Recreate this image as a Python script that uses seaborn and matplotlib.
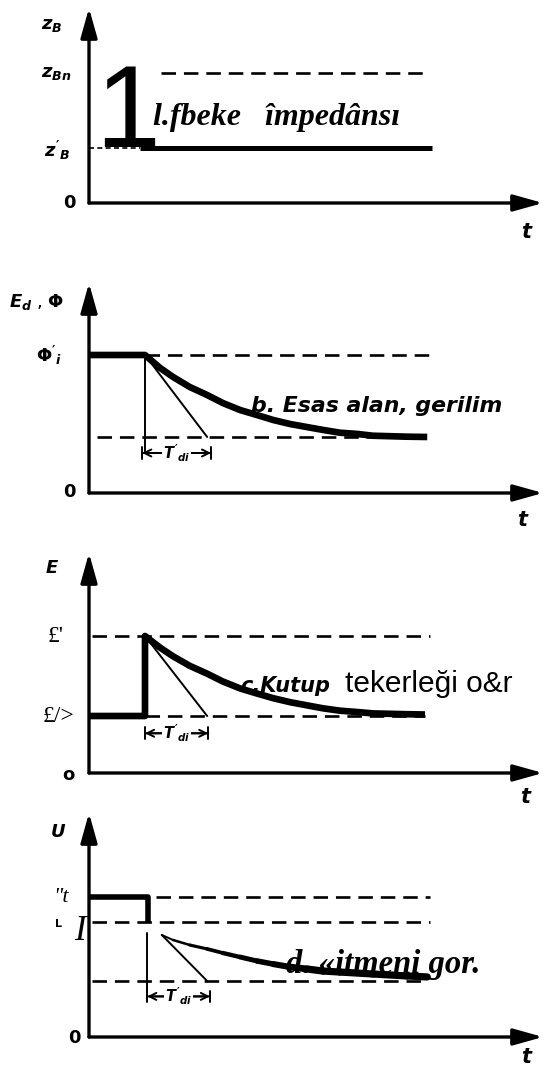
import matplotlib
matplotlib.use("Agg")
import matplotlib.pyplot as plt
from matplotlib.collections import LineCollection
import numpy as np
import seaborn as sns

# ---------------------------------------------------------------------------
# Data: time in units of the switching instant (t = 1); each quantity is
# expressed relative to its upper reference level (upper dashed line = 1).
# ---------------------------------------------------------------------------

# a) network impedance
a_zbn_level = 1.0
a_zbn_span = [1.29, 6.07]
a_zb1_level = 0.42
a_zb1_pre_span = [0.0, 0.91]
a_zb1_span = [0.91, 6.13]

# b) main-field voltage / flux
b_t = [0.0, 1.0, 1.27, 1.50, 1.80, 2.11, 2.39, 2.70, 3.00, 3.29, 3.59,
       3.89, 4.18, 4.48, 4.79, 5.07, 5.68, 6.04]
b_level = [1.0, 1.0, 0.906, 0.841, 0.768, 0.710, 0.652, 0.601, 0.565, 0.529,
           0.500, 0.478, 0.457, 0.437, 0.428, 0.415, 0.408, 0.406]
b_upper_level = 1.0
b_upper_span = [1.0, 6.09]
b_lower_level = 0.406
b_lower_span = [0.14, 6.09]
b_tangent_t = [1.0, 2.11]
b_tangent = [1.0, 0.406]
b_marker_t = 1.0
b_marker = [1.0, 0.29]
b_td_span = [0.95, 2.18]
b_td_level = 0.29

# c) pole-wheel voltage
c_t = [0.0, 1.0, 1.0, 1.27, 1.50, 1.80, 2.11, 2.39, 2.70, 3.00, 3.29, 3.59,
       3.89, 4.18, 4.48, 4.79, 5.07, 5.68, 6.0]
c_level = [0.416, 0.416, 1.0, 0.915, 0.852, 0.782, 0.725, 0.668, 0.617, 0.580,
           0.546, 0.517, 0.494, 0.472, 0.455, 0.445, 0.435, 0.429, 0.427]
c_upper_level = 1.0
c_upper_span = [0.05, 6.09]
c_lower_level = 0.416
c_lower_span = [1.0, 6.0]
c_tangent_t = [1.0, 2.11]
c_tangent = [1.0, 0.416]
c_td_span = [1.0, 2.13]
c_td_level = 0.29

# d) terminal voltage
d_step_t = [0.0, 1.05, 1.05]
d_step = [1.0, 1.0, 0.82]
d_t = [1.30, 1.50, 1.80, 2.11, 2.39, 2.70, 3.00, 3.29, 3.59, 3.89, 4.18,
       4.48, 5.07, 5.68, 6.04]
d_level = [0.729, 0.693, 0.657, 0.629, 0.600, 0.571, 0.543, 0.521, 0.500,
           0.486, 0.471, 0.464, 0.450, 0.436, 0.429]
d_upper_level = 1.0
d_upper_span = [1.2, 6.09]
d_mid_level = 0.82
d_mid_span = [0.05, 6.09]
d_lower_level = 0.40
d_lower_span = [0.05, 6.0]
d_tangent_t = [1.30, 2.11]
d_tangent = [0.729, 0.40]
d_marker_t = 1.04
d_marker = [0.74, 0.26]
d_td_span = [1.04, 2.16]
d_td_level = 0.29

# ---------------------------------------------------------------------------
sns.set_theme(style="white")
plt.rcParams["font.family"] = ["DejaVu Sans"]
plt.rcParams["mathtext.fontset"] = "custom"
plt.rcParams["mathtext.it"] = "DejaVu Sans:italic:bold"
plt.rcParams["mathtext.rm"] = "DejaVu Sans:bold"
plt.rcParams["mathtext.bf"] = "DejaVu Sans:bold"

W, H = 544, 1070
fig = plt.figure(figsize=(W / 100, H / 100), dpi=100)
fig.patch.set_facecolor("white")

X0, X1 = 89, 543          # ordinate position and abscissa arrow tip (px)
PX_PER_T = 56.0
T_END = (X1 - X0) / PX_PER_T

THICK = 4.2
AXLW = 2.4
THIN = 1.4
DASH = (0, (5.5, 3.0))
DLW = 1.9
INK = "black"


def panel(origin_px, unit_px, top_px):
    """Axes whose data origin sits at the drawn axis origin."""
    ytop = (origin_px - top_px) / unit_px
    height = origin_px - top_px
    ax = fig.add_axes([X0 / W, 1 - origin_px / H, (X1 - X0) / W, height / H])
    ax.set_xlim(0, T_END)
    ax.set_ylim(0, ytop)
    ax.axis("off")
    arrow = dict(arrowstyle="-|>,head_length=1.5,head_width=0.42",
                 color=INK, lw=AXLW, mutation_scale=12,
                 shrinkA=0, shrinkB=0)
    ax.annotate("", xy=(T_END, 0), xytext=(0, 0), arrowprops=arrow,
                annotation_clip=False)
    ax.annotate("", xy=(0, ytop), xytext=(0, 0), arrowprops=arrow,
                annotation_clip=False)
    return ax


def dashed(ax, level, span):
    ax.hlines(level, span[0], span[1], colors=INK, linestyles=DASH, lw=DLW)


def thick(ax, t, y, lw=THICK):
    sns.lineplot(x=t, y=y, ax=ax, color=INK, lw=lw, estimator=None,
                 sort=False, solid_capstyle="butt", solid_joinstyle="round")


def thin(ax, t, y):
    sns.lineplot(x=t, y=y, ax=ax, color=INK, lw=THIN, estimator=None,
                 sort=False)


def td_bracket(ax, span, level, label=r"$T'_{di}$"):
    ax.annotate("", xy=(span[0], level), xytext=(span[1], level),
                arrowprops=dict(arrowstyle="|-|,widthA=0.35,widthB=0.35",
                                lw=THIN, color=INK, shrinkA=0, shrinkB=0))
    ax.annotate("", xy=(span[0], level), xytext=(span[1], level),
                arrowprops=dict(arrowstyle="<->,head_length=0.5,head_width=0.25",
                                lw=THIN, color=INK, shrinkA=0, shrinkB=0,
                                mutation_scale=10))
    ax.text((span[0] + span[1]) / 2, level, label, ha="center", va="center",
            fontsize=10.5, color=INK,
            bbox=dict(facecolor="white", edgecolor="none", pad=0.5))


def ftext(x, y, s, ha="left", va="center", **kw):
    fig.text(x / W, 1 - y / H, s, ha=ha, va=va, color=INK, **kw)


HAND = dict(fontsize=13)

# ---- a) network impedance --------------------------------------------------
ax_a = panel(203, 130, 8)
dashed(ax_a, a_zbn_level, a_zbn_span)
ax_a.hlines(a_zb1_level, *a_zb1_pre_span, colors=INK, linestyles=(0, (3, 2)), lw=1.2)
thick(ax_a, a_zb1_span, [a_zb1_level, a_zb1_level], lw=3.6)

ftext(41, 25, r"$z_B$", **HAND)
ftext(41, 73, r"$z_{Bn}$", **HAND)
ftext(44, 150, r"$z'_B$", **HAND)
ftext(70, 203, r"$0$", ha="center", **HAND)
ftext(527, 232, r"$t$", ha="center", fontsize=15)
ftext(95, 147, "1", va="baseline", family="Liberation Sans", fontsize=84)
ftext(153, 125, "l.fbeke   împedânsı", va="baseline",
      family="Liberation Serif", fontweight="bold", fontstyle="italic",
      fontsize=23)

# ---- b) main-field voltage ---------------------------------------------------
ax_b = panel(493, 138, 283)
dashed(ax_b, b_upper_level, b_upper_span)
dashed(ax_b, b_lower_level, b_lower_span)
thick(ax_b, b_t, b_level, lw=4.8)
thin(ax_b, b_tangent_t, b_tangent)
thin(ax_b, [b_marker_t, b_marker_t], b_marker)
td_bracket(ax_b, b_td_span, b_td_level)

ftext(9, 302, r"$E_d$ , $\Phi$", **HAND)
ftext(36, 355, r"$\Phi'_i$", **HAND)
ftext(70, 492, r"$0$", ha="center", **HAND)
ftext(523, 520, r"$t$", ha="center", fontsize=15)
ftext(251, 412, "b. Esas alan, gerilim", va="baseline",
      fontweight="bold", fontstyle="italic", fontsize=15.8)

# ---- c) pole-wheel voltage ---------------------------------------------------
ax_c = panel(773, 137, 553)
dashed(ax_c, c_upper_level, c_upper_span)
dashed(ax_c, c_lower_level, c_lower_span)
thick(ax_c, c_t, c_level, lw=4.8)
thin(ax_c, c_tangent_t, c_tangent)
td_bracket(ax_c, c_td_span, c_td_level)

ftext(52, 568, r"$E$", ha="center", **HAND)
ftext(48, 636, "£'", family="Liberation Serif", fontsize=17)
ftext(43, 716, "£/>", family="Liberation Serif", fontsize=17)
ftext(68, 775, "o", ha="center", fontweight="bold", fontsize=13)
ftext(526, 797, r"$t$", ha="center", fontsize=15)
ftext(240, 692, "c.Kutup", va="baseline", fontweight="bold",
      fontstyle="italic", fontsize=15)
ftext(345, 692, "tekerleği o&r", va="baseline", family="Liberation Sans",
      fontsize=21.5)

# ---- d) terminal voltage -----------------------------------------------------
ax_d = panel(1037, 140, 813)
dashed(ax_d, d_upper_level, d_upper_span)
dashed(ax_d, d_mid_level, d_mid_span)
dashed(ax_d, d_lower_level, d_lower_span)
thick(ax_d, d_step_t, d_step, lw=4.0)
thin(ax_d, d_tangent_t, d_tangent)
thin(ax_d, [d_marker_t, d_marker_t], d_marker)
td_bracket(ax_d, d_td_span, d_td_level)

# decaying voltage, stroke widening along the curve
pts = np.column_stack([d_t, d_level])
segs = np.stack([pts[:-1], pts[1:]], axis=1)
widths = np.clip(np.linspace(1.4, 7.0, len(segs)), None, 5.2)
ax_d.add_collection(LineCollection(segs, linewidths=widths, colors=INK,
                                   capstyle="round", joinstyle="round"))

ftext(58, 832, r"$U$", ha="center", **HAND)
ftext(53, 898, '"t', family="Liberation Serif", fontstyle="italic", fontsize=16)
ftext(59, 924, "L", ha="center", fontweight="bold", fontsize=8)
ftext(80, 931, "I", ha="center", family="Liberation Serif",
      fontstyle="italic", fontsize=25)
ftext(75, 1038, r"$0$", ha="center", **HAND)
ftext(527, 1057, r"$t$", ha="center", fontsize=15)
ftext(286, 973, "d. «itmeni gor.", va="baseline", family="Liberation Serif",
      fontweight="bold", fontstyle="italic", fontsize=23.5)

fig.savefig("out.png", dpi=100, facecolor="white")
